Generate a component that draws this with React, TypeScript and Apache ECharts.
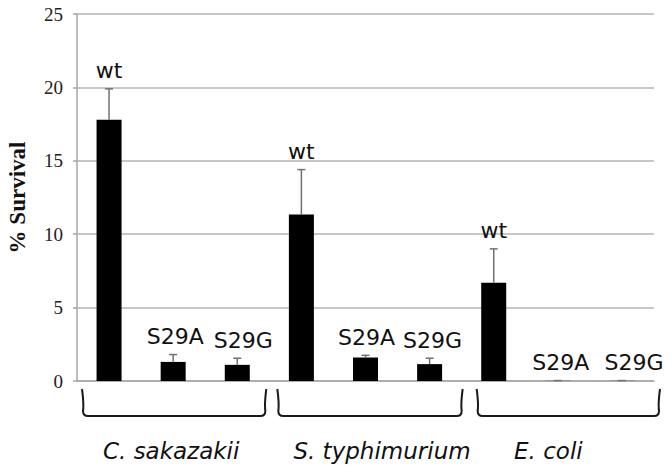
import React, { useEffect, useRef } from "react";
import * as echarts from "echarts";

const categories = [
  "C. sakazakii wt", "C. sakazakii S29A", "C. sakazakii S29G",
  "S. typhimurium wt", "S. typhimurium S29A", "S. typhimurium S29G",
  "E. coli wt", "E. coli S29A", "E. coli S29G",
];
const barLabels = ["wt", "S29A", "S29G", "wt", "S29A", "S29G", "wt", "S29A", "S29G"];
const survival = [17.8, 1.3, 1.1, 11.35, 1.6, 1.15, 6.7, 0.01, 0.01];
const errors = [2.1, 0.5, 0.45, 3.05, 0.15, 0.4, 2.3, 0.02, 0.02];
const groupNames = ["C. sakazakii", "S. typhimurium", "E. coli"];
const groupRanges = [[0, 2], [3, 5], [6, 8]];
const yTicks = [0, 5, 10, 15, 20, 25];

// layout constants (pixel tweaks, not data)
const labelShift = [0, 2, 6, 0, 1, 3, 0, 3, 12];
const bracketInsetLeft = [6, 9, 16];
const bracketInsetRight = [4, 0, -5];
const groupLabelShift = [-3, 12, -20];

export default function App() {
  const ref = useRef<HTMLDivElement>(null);
  useEffect(() => {
    if (!ref.current) return;
    const chart = echarts.init(ref.current, undefined, { renderer: "svg" });
    chart.setOption({
      animation: false,
      backgroundColor: "#ffffff",
      grid: { left: 77, right: 18, top: 14, bottom: 92, containLabel: false, outerBoundsMode: "none" },
      xAxis: {
        type: "category",
        data: categories,
        axisLabel: { show: false },
        axisTick: { show: false },
        axisLine: { show: true, lineStyle: { color: "#a6a6a6", width: 1.5 } },
      },
      yAxis: {
        type: "value",
        min: yTicks[0],
        max: yTicks[yTicks.length - 1],
        interval: 5,
        name: "% Survival",
        nameLocation: "middle",
        nameRotate: 90,
        nameGap: 48,
        nameTextStyle: { fontFamily: "Liberation Serif", fontWeight: "bold", fontSize: 23, color: "#111" },
        axisLine: { show: true, lineStyle: { color: "#a6a6a6", width: 1.5 } },
        axisTick: { show: true, length: 4, lineStyle: { color: "#a6a6a6", width: 1.5 } },
        axisLabel: { margin: 14, fontFamily: "Liberation Serif", fontSize: 19, color: "#222" },
        splitLine: { show: true, lineStyle: { color: "#b5b5b5", width: 1.5 } },
      },
      series: [
        {
          type: "bar",
          data: survival,
          barWidth: 25,
          itemStyle: { color: "#000000" },
          silent: true,
        },
        {
          type: "custom",
          silent: true,
          z: 5,
          data: survival.map((v, i) => [i, v, errors[i]]),
          renderItem: (params: any, api: any) => {
            const i = api.value(0);
            const v = api.value(1);
            const e = api.value(2);
            const base = api.coord([i, v]);
            const top = api.coord([i, v + e]);
            return {
              type: "group",
              children: [
                {
                  type: "line",
                  shape: { x1: base[0], y1: base[1], x2: top[0], y2: top[1] },
                  style: { stroke: "#707070", lineWidth: 1.5 },
                },
                {
                  type: "line",
                  shape: { x1: top[0] - 4, y1: top[1], x2: top[0] + 4, y2: top[1] },
                  style: { stroke: "#707070", lineWidth: 1.5 },
                },
                {
                  type: "text",
                  x: top[0] + labelShift[params.dataIndex],
                  y: top[1] - 18,
                  style: {
                    text: barLabels[params.dataIndex],
                    fontFamily: "DejaVu Sans",
                    fontSize: 22,
                    fill: "#111",
                    align: "center",
                    verticalAlign: "middle",
                  },
                },
              ],
            };
          },
        },
        {
          type: "custom",
          silent: true,
          clip: false,
          data: groupRanges.map((r) => [r[0], r[1]]),
          renderItem: (params: any, api: any) => {
            const g = params.dataIndex;
            const s = api.value(0);
            const t = api.value(1);
            const bw = api.size([1, 0])[0];
            const p0 = api.coord([s, 0]);
            const p1 = api.coord([t, 0]);
            const x1 = p0[0] - bw / 2 + bracketInsetLeft[g];
            const x2 = p1[0] + bw / 2 - bracketInsetRight[g];
            const y0 = p0[1] + 8;
            const y1 = p0[1] + 35;
            const r = 5;
            const d = `M ${x1 - 1} ${y0} Q ${x1 + 1} ${y1 - 12} ${x1} ${y1 - r} Q ${x1} ${y1} ${x1 + r} ${y1} L ${x2 - r} ${y1} Q ${x2} ${y1} ${x2} ${y1 - r} Q ${x2 - 1} ${y1 - 12} ${x2 + 1} ${y0}`;
            return {
              type: "group",
              children: [
                {
                  type: "path",
                  shape: { pathData: d },
                  style: { stroke: "#1a1a1a", lineWidth: 2, fill: "none" },
                },
                {
                  type: "text",
                  x: (x1 + x2) / 2 + groupLabelShift[g],
                  y: p0[1] + 70,
                  style: {
                    text: groupNames[g],
                    fontFamily: "DejaVu Sans",
                    fontStyle: "italic",
                    fontSize: 23,
                    fill: "#111",
                    align: "center",
                    verticalAlign: "middle",
                  },
                },
              ],
            };
          },
        },
      ],
    });
    return () => chart.dispose();
  }, []);
  return <div ref={ref} style={{ width: 672, height: 473, position: "absolute", left: 0, top: 0 }} />;
}
